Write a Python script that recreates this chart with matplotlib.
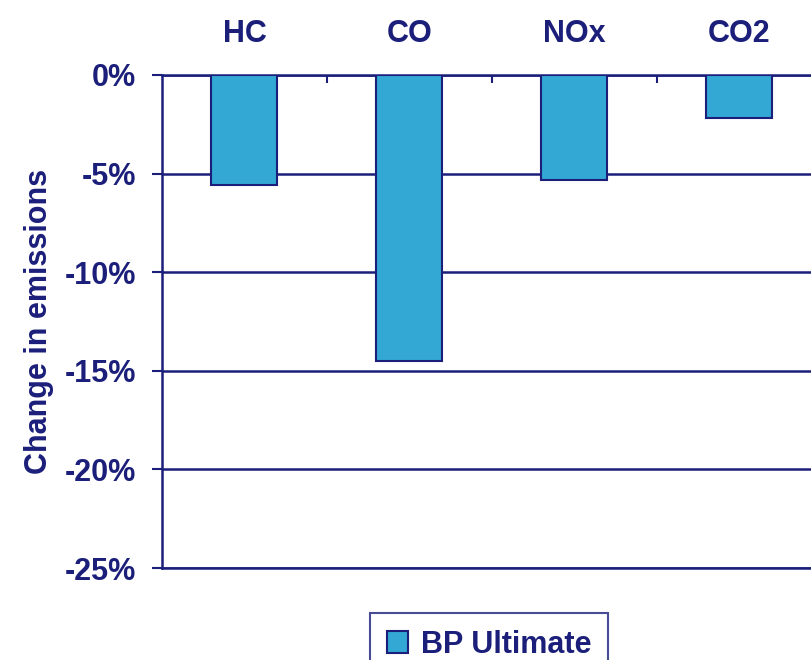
import numpy as np
import matplotlib.pyplot as plt

# Emission change per pollutant
pollutants = ["HC", "CO", "NOx", "CO2"]
change_pct = [-5.6, -14.5, -5.3, -2.2]
series_name = "BP Ultimate"

navy = "#1b1f7a"
bar_blue = "#33a8d4"

plt.rcParams["font.family"] = ["Liberation Sans", "DejaVu Sans"]
plt.rcParams["font.weight"] = "bold"

fig = plt.figure(figsize=(8.12, 6.6), dpi=100)
# plot area runs slightly past the right edge of the figure
ax = fig.add_axes([162 / 812, 1 - 568 / 660, 660 / 812, (568 - 75) / 660])

x = np.arange(len(pollutants))
ax.bar(x, change_pct, width=0.4, color=bar_blue, edgecolor=navy,
       linewidth=1.5, label=series_name, zorder=3)

ax.set_xlim(-0.5, len(pollutants) - 0.5)
ax.set_ylim(-25, 0)
ax.set_yticks(np.arange(-25, 1, 5))
ax.set_yticklabels([f"{v}%" for v in range(-25, 1, 5)])
ax.yaxis.grid(True, color=navy, linewidth=1.8, zorder=1)

# category labels on top, boundary ticks along the 0% line
ax.xaxis.set_ticks_position("top")
ax.set_xticks(np.arange(0.5, len(pollutants) - 0.5, 1))
ax.set_xticklabels([])
ax.set_xticks(x, minor=True)
ax.set_xticklabels(pollutants, minor=True)
ax.tick_params(axis="x", which="major", direction="in", length=6,
               width=1.5, color=navy)
ax.tick_params(axis="x", which="minor", length=0, pad=19,
               labelsize=22, labelcolor=navy)
ax.tick_params(axis="y", direction="out", length=7.5, width=1.5,
               color=navy, pad=11, labelsize=22, labelcolor=navy)

for side in ["left", "top", "bottom"]:
    ax.spines[side].set_color(navy)
    ax.spines[side].set_linewidth(1.8)
ax.spines["right"].set_visible(False)

ax.set_ylabel("Change in emissions", fontsize=22, color=navy,
              fontweight="bold", labelpad=8)

leg = fig.legend(loc="upper center", bbox_to_anchor=(489 / 812, 1 - 613 / 660),
                 borderaxespad=0, fancybox=False, fontsize=22,
                 handlelength=0.7, handleheight=0.7, handletextpad=0.4,
                 borderpad=0.55, labelcolor=navy, edgecolor=navy)
leg.get_frame().set_linewidth(1.5)

fig.savefig("out.png", dpi=100)
